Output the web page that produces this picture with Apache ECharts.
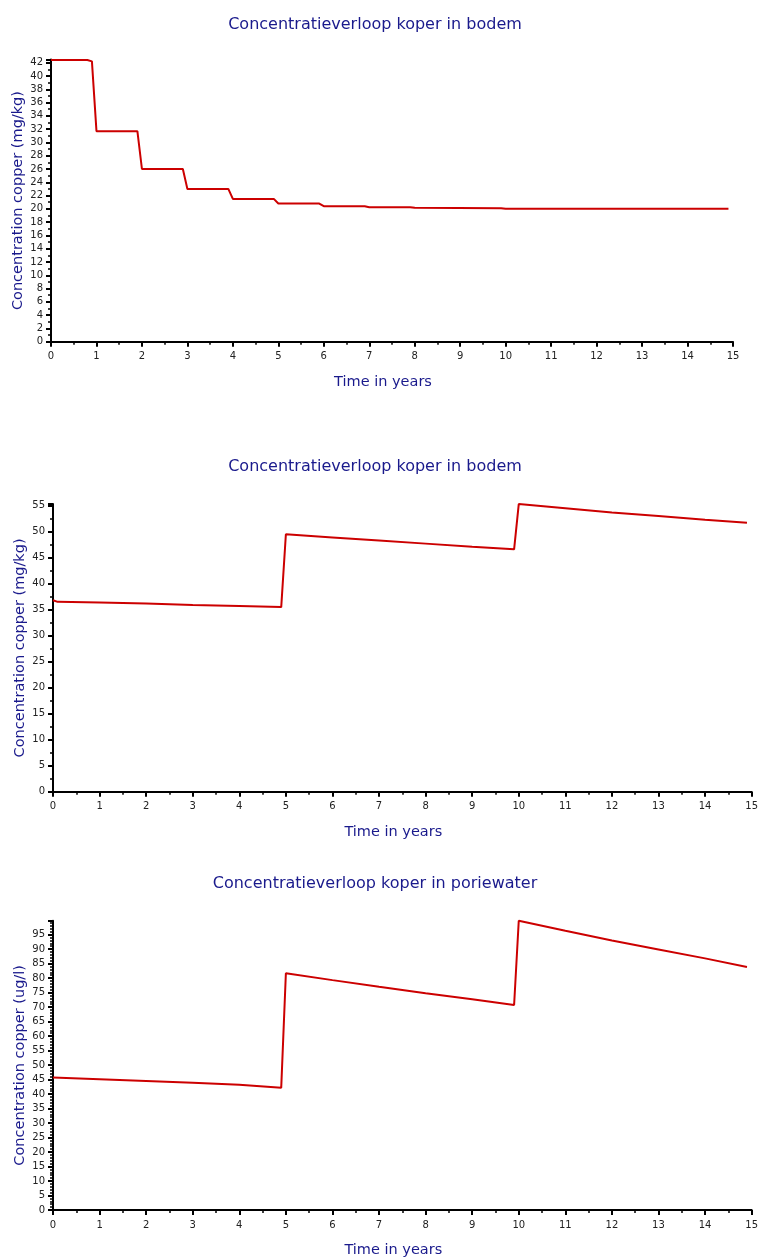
<!DOCTYPE html>
<html>
<head>
<meta charset="utf-8">
<script src="https://cdn.jsdelivr.net/npm/echarts@6/dist/echarts.min.js"></script>
<style>
  html, body { margin: 0; padding: 0; background: #ffffff; }
  #chart { width: 761px; height: 1259px; }
</style>
</head>
<body>
<div id="chart"></div>
<script>
// Copper concentration in soil, scenario A (yearly step-down)
const soilTimeA = [0, 0.8, 0.9, 1.0, 1.9, 2.0, 2.9, 3.0, 3.9, 4.0, 4.9, 5.0, 5.9, 6.0, 6.9, 7.0, 7.9, 8.0, 9.9, 10.0, 14.9];
const soilCuA   = [42.4, 42.4, 42.2, 31.7, 31.7, 26.0, 26.0, 23.0, 23.0, 21.5, 21.5, 20.8, 20.8, 20.4, 20.4, 20.25, 20.25, 20.15, 20.1, 20.0, 20.0];

// Copper concentration in soil, scenario B (inputs at year 5 and 10)
const soilTimeB = [0, 0.1, 1, 2, 3, 4, 4.9, 5.0, 6, 7, 8, 9, 9.9, 10.0, 11, 12, 13, 14, 14.9];
const soilCuB   = [36.8, 36.5, 36.4, 36.2, 35.9, 35.7, 35.5, 49.5, 48.9, 48.3, 47.7, 47.1, 46.6, 55.3, 54.5, 53.7, 53.0, 52.3, 51.7];

// Copper concentration in pore water (ug/l)
const poreTime = [0, 1, 2, 3, 4, 4.9, 5.0, 6, 7, 8, 9, 9.9, 10.0, 11, 12, 13, 14, 14.9];
const poreCu   = [45.7, 45.1, 44.5, 43.9, 43.2, 42.2, 81.7, 79.3, 77.0, 74.8, 72.7, 70.7, 99.8, 96.3, 93.0, 89.9, 86.8, 83.8];

const titles = [
  'Concentratieverloop koper in bodem',
  'Concentratieverloop koper in bodem',
  'Concentratieverloop koper in poriewater'
];
const yNames = [
  'Concentration copper (mg/kg)',
  'Concentration copper (mg/kg)',
  'Concentration copper (ug/l)'
];
const xName = 'Time in years';

const NAVY = '#1a1a8c';
const LINE = '#cc0000';
const FONT = 'DejaVu Sans';

const pairs = (t, v) => t.map((x, i) => [x, v[i]]);

const panels = [
  { grid: { left: 51, top: 59.4, width: 682, height: 282.3 }, yMax: 42.5, yInt: 2, ySplit: 2, titleTop: 12, data: pairs(soilTimeA, soilCuA) },
  { grid: { left: 53, top: 504.1, width: 702, height: 287.6 }, yMax: 55.3, yInt: 5, ySplit: 2, titleTop: 454, data: pairs(soilTimeB, soilCuB) },
  { grid: { left: 53, top: 920.7, width: 700, height: 289.9 }, yMax: 99.8, yInt: 5, ySplit: 5, titleTop: 871, data: pairs(poreTime, poreCu) }
];

const labelOnStep = step => v => {
  const r = v / step;
  return Math.abs(r - Math.round(r)) < 1e-6 ? String(Math.round(v)) : '';
};

const axisCommon = {
  axisLine: { show: true, onZero: false, lineStyle: { color: '#000', width: 2 } },
  axisTick: { show: true, inside: false, length: 5, lineStyle: { color: '#000', width: 2 } },
  minorTick: { show: true, length: 3, lineStyle: { color: '#000', width: 1.5 } },
  splitLine: { show: false },
  minorSplitLine: { show: false },
  axisLabel: { color: '#222', fontFamily: FONT, fontSize: 10, margin: 8 }
};

const option = {
  animation: false,
  backgroundColor: '#ffffff',
  title: panels.map((p, i) => ({
    text: titles[i],
    left: 370,
    top: p.titleTop,
    textAlign: 'center',
    textStyle: { color: NAVY, fontFamily: FONT, fontSize: 16, fontWeight: 'normal' }
  })),
  grid: panels.map(p => p.grid),
  xAxis: panels.map((p, i) => Object.assign({}, axisCommon, {
    type: 'value',
    gridIndex: i,
    min: 0, max: 15, interval: 1,
    minorTick: Object.assign({}, axisCommon.minorTick, { splitNumber: 2 }),
    axisLabel: Object.assign({}, axisCommon.axisLabel, { margin: 10 }),
    name: xName,
    nameLocation: 'middle',
    nameGap: 33,
    nameMoveOverlap: false,
    nameTextStyle: { color: NAVY, fontFamily: FONT, fontSize: 14.5, padding: [0, 18, 0, 0] }
  })),
  yAxis: panels.map((p, i) => Object.assign({}, axisCommon, {
    type: 'value',
    gridIndex: i,
    min: 0, max: p.yMax, interval: p.yInt,
    minorTick: Object.assign({}, axisCommon.minorTick, { splitNumber: p.ySplit }),
    axisLabel: Object.assign({}, axisCommon.axisLabel, { formatter: labelOnStep(p.yInt) }),
    name: yNames[i],
    nameLocation: 'middle',
    nameGap: 25,
    nameMoveOverlap: false,
    nameTextStyle: { color: NAVY, fontFamily: FONT, fontSize: 14.5 }
  })),
  series: panels.map((p, i) => ({
    type: 'line',
    xAxisIndex: i,
    yAxisIndex: i,
    data: p.data,
    showSymbol: false,
    symbol: 'none',
    lineStyle: { color: LINE, width: 2 },
    clip: false
  }))
};

const chart = echarts.init(document.getElementById('chart'), null, { renderer: 'canvas' });
chart.setOption(option);
</script>
</body>
</html>
